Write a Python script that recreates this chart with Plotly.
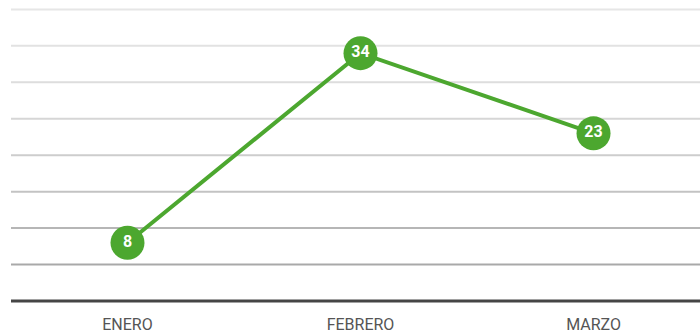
import plotly.graph_objects as go

# Monthly values
months = ["ENERO", "FEBRERO", "MARZO"]
values = [8, 34, 23]

# Horizontal guide levels and their shades (lighter toward the top)
grid_levels = [5, 10, 15, 20, 25, 30, 35, 40]
grid_colors = ["#a9a9a9", "#b6b6b6", "#c3c3c3", "#cdcdcd",
               "#d6d6d6", "#dddddd", "#e2e2e2", "#e6e6e6"]

green = "#4ca72f"

fig = go.Figure()

for lvl, col in zip(grid_levels, grid_colors):
    fig.add_shape(type="line", xref="paper", yref="y", x0=0, x1=1.02,
                  y0=lvl, y1=lvl, line=dict(color=col, width=2), layer="below")

# Baseline
fig.add_shape(type="line", xref="paper", yref="y", x0=0, x1=1.02,
              y0=0, y1=0, line=dict(color="#454545", width=3), layer="below")

fig.add_trace(go.Scatter(
    x=list(range(len(months))), y=values,
    mode="lines+markers+text",
    line=dict(color=green, width=4),
    marker=dict(color=green, size=34, line=dict(width=0)),
    text=[str(v) for v in values],
    textposition="middle center",
    textfont=dict(family="Roboto, Arial, sans-serif", size=16, color="white", weight="bold"),
    cliponaxis=False,
    hoverinfo="skip",
))

fig.update_layout(
    width=700, height=333,
    margin=dict(l=11, r=0, t=0, b=30),
    paper_bgcolor="white", plot_bgcolor="white",
    showlegend=False,
    xaxis=dict(
        range=[-0.5, 2.457],
        tickmode="array", tickvals=list(range(len(months))), ticktext=months,
        showgrid=False, zeroline=False, showline=False, ticks="",
        ticklabelstandoff=10,
        tickfont=dict(family="Roboto, Arial, sans-serif", size=16, color="#555555"),
        fixedrange=True,
    ),
    yaxis=dict(
        range=[-0.27, 41.29], showgrid=False, zeroline=False, showline=False,
        showticklabels=False, ticks="", fixedrange=True,
    ),
)

fig.write_html("out.html")
